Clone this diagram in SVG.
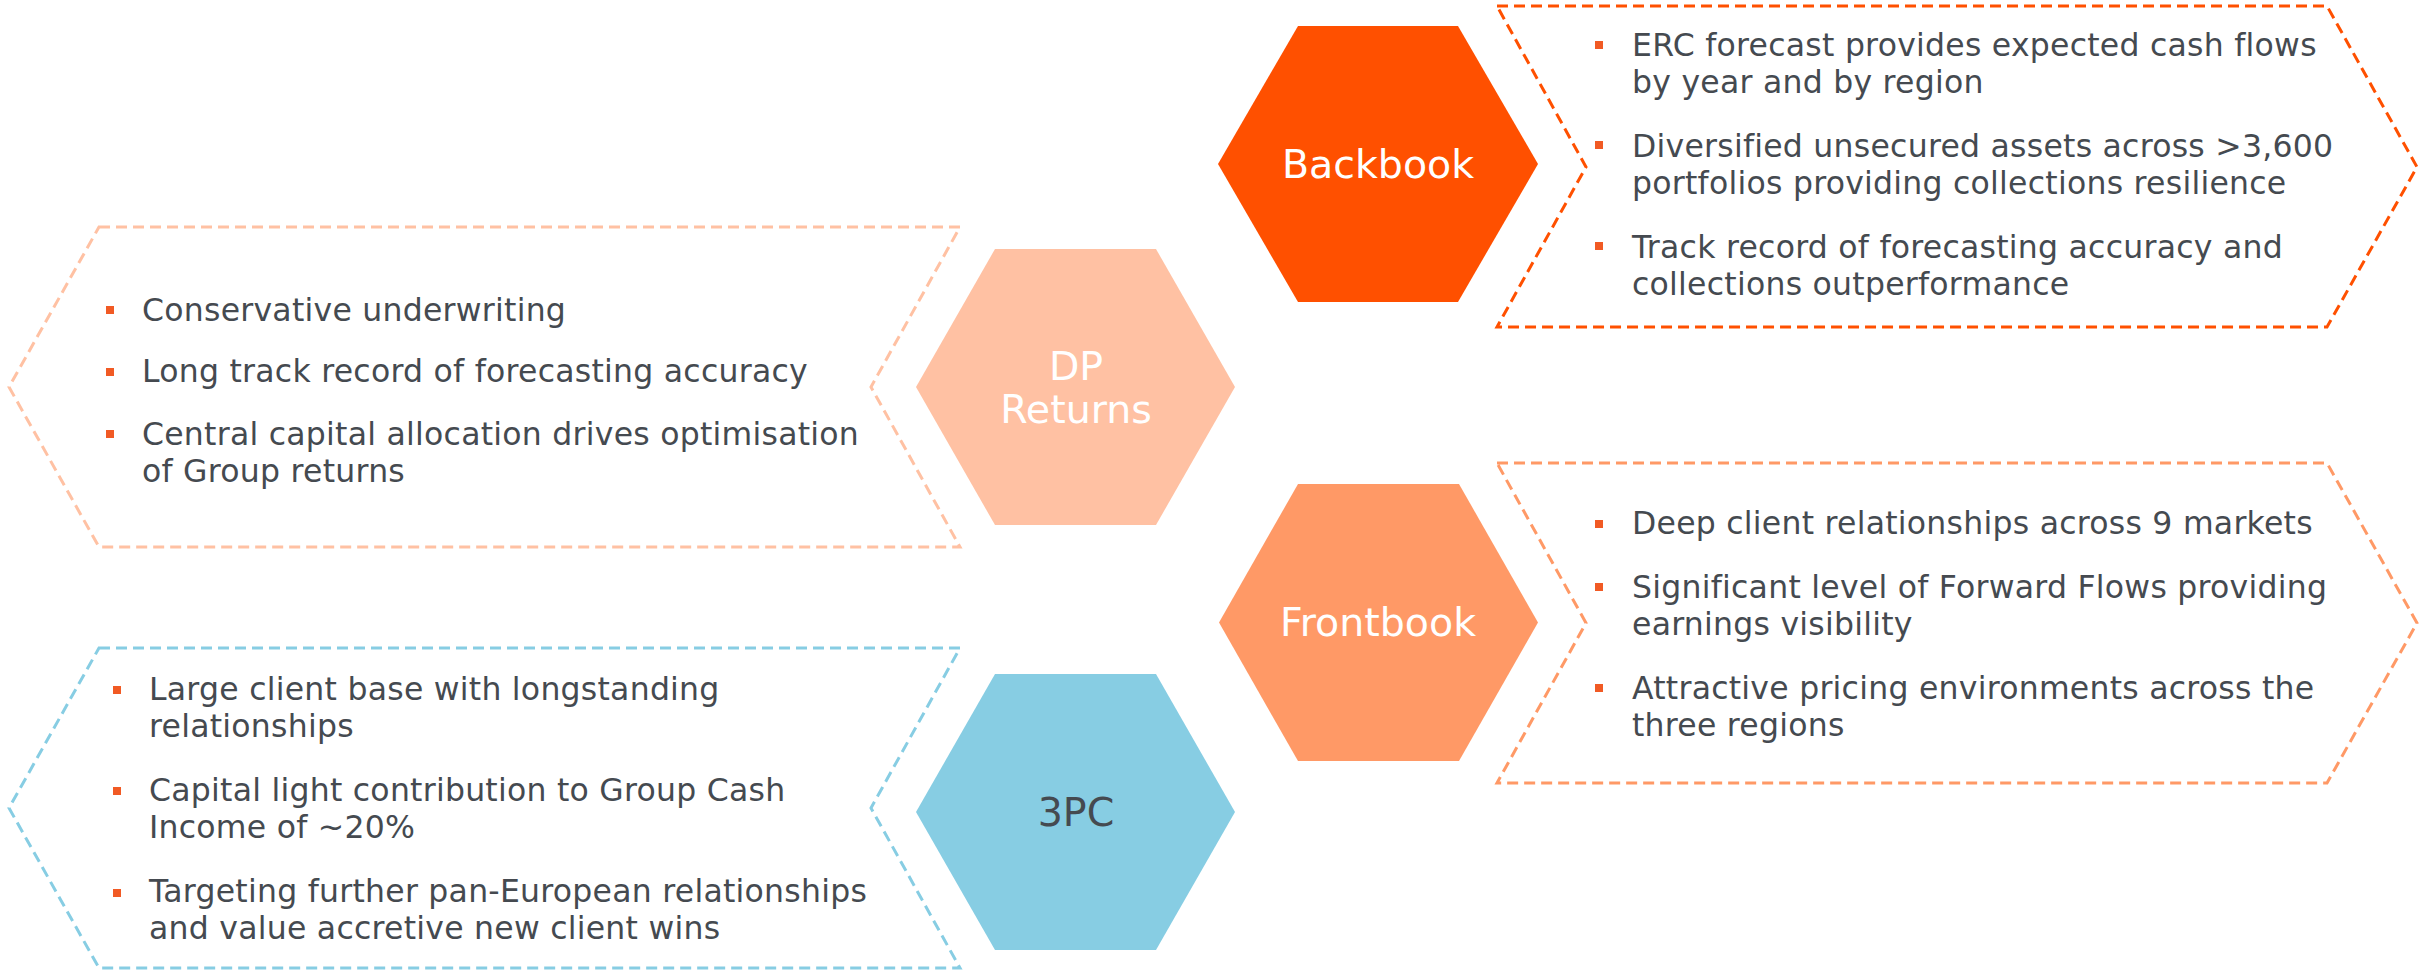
<svg xmlns="http://www.w3.org/2000/svg" width="2425" height="973" viewBox="0 0 2425 973">
<style>
  .body { font-family: "DejaVu Sans", Verdana, sans-serif; font-size: 31.5px; letter-spacing: 0.25px; fill: #454A50; }
  .hexlabel { font-family: "DejaVu Sans", Verdana, sans-serif; font-size: 39.5px; text-anchor: middle; }
  .bullet { fill: #F15A24; }
  .chev { fill: none; stroke-width: 3; stroke-dasharray: 11 6; }
</style>
<rect width="2425" height="973" fill="#FFFFFF"/>

<g id="backbook">
  <polygon points="1218,164 1298,26 1458,26 1538,164 1458,302 1298,302" fill="#FF5000"/>
  <text class="hexlabel" x="1378" y="178" fill="#FFFFFF">Backbook</text>
</g>
<g id="backbook-box">
  <polygon class="chev" stroke="#FF5000" points="1497,6 2327,6 2417,167 2327,327 1497,327 1586,167"/>
  <rect class="bullet" x="1595" y="41" width="8" height="8"/>
  <rect class="bullet" x="1595" y="141" width="8" height="8"/>
  <rect class="bullet" x="1595" y="242" width="8" height="8"/>
  <text class="body" x="1632" y="56">ERC forecast provides expected cash flows</text>
  <text class="body" x="1632" y="93">by year and by region</text>
  <text class="body" x="1632" y="157">Diversified unsecured assets across &gt;3,600</text>
  <text class="body" x="1632" y="194">portfolios providing collections resilience</text>
  <text class="body" x="1632" y="258">Track record of forecasting accuracy and</text>
  <text class="body" x="1632" y="295">collections outperformance</text>
</g>

<g id="dp-returns">
  <polygon points="916,387 995,249 1156,249 1235,387 1156,525 995,525" fill="#FFC1A3"/>
  <text class="hexlabel" x="1076" y="380" fill="#FFFFFF">DP</text>
  <text class="hexlabel" x="1076" y="423" fill="#FFFFFF">Returns</text>
</g>
<g id="dp-returns-box">
  <polygon class="chev" stroke="#FFC1A3" points="99,227 960,227 871,387 960,547 99,547 9,387"/>
  <rect class="bullet" x="106" y="306" width="8" height="8"/>
  <rect class="bullet" x="106" y="368" width="8" height="8"/>
  <rect class="bullet" x="106" y="430" width="8" height="8"/>
  <text class="body" x="142" y="321">Conservative underwriting</text>
  <text class="body" x="142" y="382">Long track record of forecasting accuracy</text>
  <text class="body" x="142" y="445">Central capital allocation drives optimisation</text>
  <text class="body" x="142" y="482">of Group returns</text>
</g>

<g id="frontbook">
  <polygon points="1219,622.5 1298,484 1459,484 1538,622.5 1459,761 1298,761" fill="#FF9966"/>
  <text class="hexlabel" x="1378" y="636" fill="#FFFFFF">Frontbook</text>
</g>
<g id="frontbook-box">
  <polygon class="chev" stroke="#FF9966" points="1497,463 2327,463 2417,623 2327,783 1497,783 1586,623"/>
  <rect class="bullet" x="1595" y="520" width="8" height="8"/>
  <rect class="bullet" x="1595" y="583" width="8" height="8"/>
  <rect class="bullet" x="1595" y="684" width="8" height="8"/>
  <text class="body" x="1632" y="534">Deep client relationships across 9 markets</text>
  <text class="body" x="1632" y="598">Significant level of Forward Flows providing</text>
  <text class="body" x="1632" y="635">earnings visibility</text>
  <text class="body" x="1632" y="699">Attractive pricing environments across the</text>
  <text class="body" x="1632" y="736">three regions</text>
</g>

<g id="third-party-collections">
  <polygon points="916,812 995,674 1156,674 1235,812 1156,950 995,950" fill="#87CDE3"/>
  <text class="hexlabel" x="1076" y="826" fill="#454A50">3PC</text>
</g>
<g id="third-party-collections-box">
  <polygon class="chev" stroke="#87CDE3" points="99,648 960,648 871,808 960,968 99,968 9,808"/>
  <rect class="bullet" x="113" y="686" width="8" height="8"/>
  <rect class="bullet" x="113" y="787" width="8" height="8"/>
  <rect class="bullet" x="113" y="889" width="8" height="8"/>
  <text class="body" x="149" y="700">Large client base with longstanding</text>
  <text class="body" x="149" y="737">relationships</text>
  <text class="body" x="149" y="801">Capital light contribution to Group Cash</text>
  <text class="body" x="149" y="838">Income of ~20%</text>
  <text class="body" x="149" y="902">Targeting further pan-European relationships</text>
  <text class="body" x="149" y="939">and value accretive new client wins</text>
</g>

<g id="connectors"/>
</svg>
